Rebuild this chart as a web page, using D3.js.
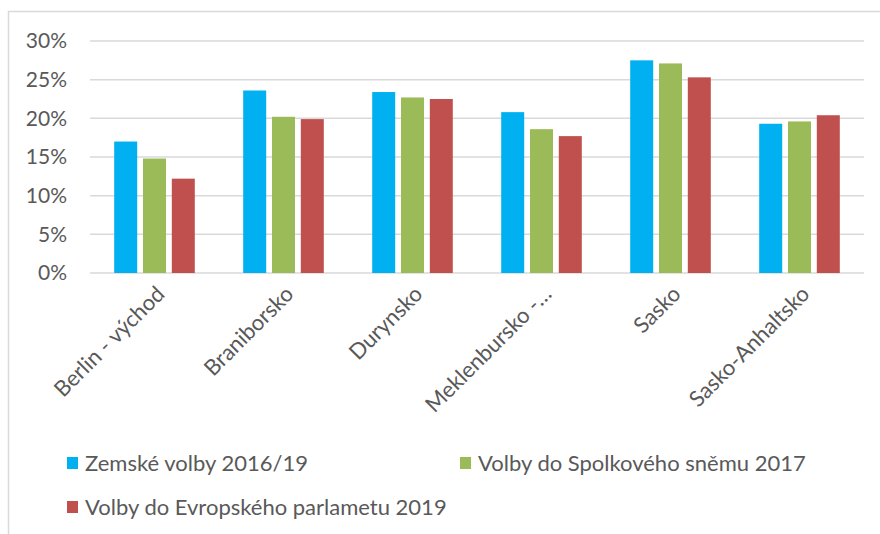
<!DOCTYPE html>
<html>
<head>
<meta charset="utf-8">
<script src="https://cdn.jsdelivr.net/npm/d3@7"></script>
<style>
  body { margin: 0; background: #fff; }
  svg { display: block; font-family: Lato, "Open Sans", sans-serif; }
</style>
</head>
<body>
<svg id="chart" width="880" height="534"></svg>
<script>
// Data
const categories = ['Berlin - východ', 'Braniborsko', 'Durynsko', 'Meklenbursko -…', 'Sasko', 'Sasko-Anhaltsko'];
const seriesNames = ['Zemské volby 2016/19', 'Volby do Spolkového sněmu 2017', 'Volby do Evropského parlametu 2019'];
const zemske = [17.0, 23.6, 23.4, 20.8, 27.5, 19.3];
const spolkovy = [14.8, 20.2, 22.7, 18.6, 27.1, 19.6];
const evropsky = [12.2, 19.9, 22.5, 17.7, 25.3, 20.4];
const yTicks = [0, 5, 10, 15, 20, 25, 30];
const colors = ['#00b0f0', '#9bbb59', '#c0504d'];

const series = [zemske, spolkovy, evropsky];

const svg = d3.select('#chart');

// ramecek grafu
svg.append('rect')
  .attr('x', 8.5).attr('y', 11.5)
  .attr('width', 900).attr('height', 600)
  .attr('fill', 'none')
  .attr('stroke', '#d9d9d9')
  .attr('stroke-width', 1.5);

const plotLeft = 90, plotRight = 864, plotTop = 41, plotBottom = 273;

const x = d3.scaleBand().domain(categories).range([plotLeft, plotRight]);
const y = d3.scaleLinear().domain([0, 30]).range([plotBottom, plotTop]);

const barW = 23, barGap = 5.8;

// mrizka
svg.append('g')
  .selectAll('line')
  .data(yTicks)
  .join('line')
  .attr('x1', plotLeft).attr('x2', plotRight)
  .attr('y1', d => y(d)).attr('y2', d => y(d))
  .attr('stroke', '#d9d9d9')
  .attr('stroke-width', 1.5);

// popisky osy y
svg.append('g')
  .selectAll('text')
  .data(yTicks)
  .join('text')
  .attr('x', 67)
  .attr('y', d => y(d))
  .attr('dy', '0.35em')
  .attr('text-anchor', 'end')
  .attr('fill', '#595959')
  .attr('font-size', 21)
  .text(d => d + '%');

// sloupce
series.forEach((vals, si) => {
  svg.append('g')
    .selectAll('rect')
    .data(vals)
    .join('rect')
    .attr('x', (d, i) => x(categories[i]) + x.bandwidth() / 2 - (1.5 * barW + barGap) + si * (barW + barGap))
    .attr('y', d => y(d))
    .attr('width', barW)
    .attr('height', d => y(0) - y(d))
    .attr('fill', colors[si]);
});

// popisky osy x
svg.append('g')
  .selectAll('text')
  .data(categories)
  .join('text')
  .attr('transform', d => `translate(${x(d) + x.bandwidth() / 2 + 6}, 290) rotate(-45)`)
  .attr('text-anchor', 'end')
  .attr('dy', '0.35em')
  .attr('fill', '#595959')
  .attr('font-size', 22)
  .text(d => d);

// legenda
const legendPos = [[67, 463], [460, 463], [67, 507]];
const legend = svg.append('g')
  .selectAll('g')
  .data(seriesNames)
  .join('g')
  .attr('transform', (d, i) => `translate(${legendPos[i][0]}, ${legendPos[i][1]})`);

legend.append('rect')
  .attr('x', 0).attr('y', -6)
  .attr('width', 11).attr('height', 12)
  .attr('fill', (d, i) => colors[i]);

legend.append('text')
  .attr('x', 18)
  .attr('dy', '0.35em')
  .attr('fill', '#595959')
  .attr('font-size', 22)
  .text(d => d);
</script>
</body>
</html>
